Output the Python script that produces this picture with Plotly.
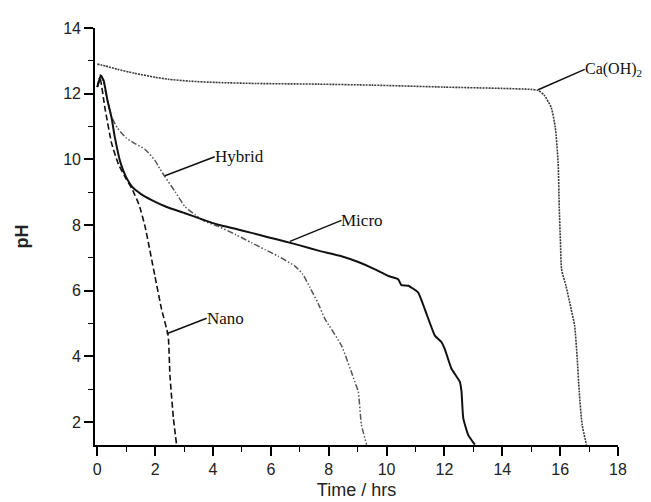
import plotly.graph_objects as go

# ---- data ----
caoh2_x = [0.0, 0.3, 0.7, 1.3, 2.0, 2.45, 3.2, 4.18, 5.5, 7.64, 9.5, 12.0, 14.0, 15.0, 15.24,
           15.45, 15.69, 15.83, 15.93, 15.97, 16.01, 16.05, 16.2, 16.38, 16.5, 16.59, 16.66, 16.76, 16.91]
caoh2_y = [12.9, 12.84, 12.74, 12.62, 12.5, 12.44, 12.38, 12.34, 12.31, 12.29, 12.26, 12.2, 12.16, 12.13, 12.1,
           11.95, 11.58, 10.98, 9.9, 8.5, 7.5, 6.65, 6.15, 5.44, 4.94, 3.93, 2.93, 1.92, 1.31]

micro_x = [0.0, 0.12, 0.22, 0.35, 0.49, 0.6, 0.8, 1.0, 1.2, 1.5, 1.88, 2.4, 3.03, 3.6, 4.18, 4.8, 5.33,
           5.9, 6.49, 7.0, 7.64, 8.44, 9.0, 9.6, 10.05, 10.4, 10.51, 10.75, 11.09, 11.32, 11.67, 11.9,
           12.01, 12.24, 12.53, 12.59, 12.65, 12.82, 13.05]
micro_y = [12.2, 12.55, 12.4, 11.8, 11.28, 10.7, 9.9, 9.45, 9.17, 8.95, 8.76, 8.55, 8.36, 8.18, 8.01, 7.88,
           7.76, 7.63, 7.5, 7.38, 7.22, 7.05, 6.88, 6.65, 6.45, 6.35, 6.17, 6.15, 5.95, 5.44, 4.63, 4.43,
           4.23, 3.63, 3.23, 2.93, 2.12, 1.61, 1.31]

hybrid_x = [0.0, 0.12, 0.2, 0.3, 0.49, 0.7, 1.0, 1.3, 1.65, 1.99, 2.17, 2.34, 2.7, 3.03, 3.4, 3.72, 4.18,
            4.8, 5.33, 5.8, 6.25, 6.83, 7.1, 7.35, 7.64, 7.87, 8.44, 8.9, 9.02, 9.13, 9.31]
hybrid_y = [12.2, 12.6, 12.4, 12.0, 11.3, 10.95, 10.65, 10.48, 10.3, 9.97, 9.7, 9.47, 9.0, 8.56, 8.3, 8.11,
            7.96, 7.7, 7.46, 7.25, 7.05, 6.75, 6.5, 6.1, 5.6, 5.14, 4.33, 3.23, 2.93, 1.92, 1.31]

nano_x = [0.0, 0.1, 0.26, 0.49, 0.73, 1.0, 1.2, 1.45, 1.65, 1.99, 2.22, 2.45, 2.51, 2.63, 2.74]
nano_y = [12.2, 12.45, 11.58, 10.5, 9.85, 9.4, 9.1, 8.6, 7.96, 6.45, 5.44, 4.63, 3.43, 2.12, 1.31]

# label positions: (text, curve point x, curve point y, label x, label y, font size)
labels = [
    ("Ca(OH)<sub>2</sub>", 15.24, 12.12, 16.85, 12.74, 16),
    ("Hybrid", 2.34, 9.50, 4.06, 10.08, 17),
    ("Micro", 6.66, 7.50, 8.44, 8.14, 17),
    ("Nano", 2.40, 4.69, 3.78, 5.16, 17),
]

fig = go.Figure()
fig.add_trace(go.Scatter(x=caoh2_x, y=caoh2_y, mode="lines", name="Ca(OH)2",
                         line=dict(color="#3a3a3a", width=1.6, dash="2px,1px", shape="spline", smoothing=0.6)))
fig.add_trace(go.Scatter(x=hybrid_x, y=hybrid_y, mode="lines", name="Hybrid",
                         line=dict(color="#555555", width=1.5, dash="6px,2px,1.5px,2px,1.5px,2px",
                                   shape="spline", smoothing=0.5)))
fig.add_trace(go.Scatter(x=micro_x, y=micro_y, mode="lines", name="Micro",
                         line=dict(color="#111111", width=2, shape="spline", smoothing=0.4)))
fig.add_trace(go.Scatter(x=nano_x, y=nano_y, mode="lines", name="Nano",
                         line=dict(color="#111111", width=1.6, dash="6px,3px", shape="spline", smoothing=0.4)))

for text, cx, cy, lx, ly, fs in labels:
    fig.add_shape(type="line", x0=cx, y0=cy, x1=lx, y1=ly, xref="x", yref="y",
                  line=dict(color="#111111", width=1.5))
    fig.add_annotation(x=lx, y=ly, text=text, showarrow=False, xanchor="left", yanchor="middle",
                       xshift=-2, font=dict(family="Liberation Serif", size=fs, color="#111111"))

axis_common = dict(showline=True, linecolor="black", linewidth=1.6, ticks="outside", ticklen=9,
                   tickwidth=1.5, tickcolor="black", showgrid=False, zeroline=False,
                   tickfont=dict(family="Liberation Sans", size=16, color="#222222"),
                   mirror=False)

fig.update_layout(
    width=651, height=502,
    margin=dict(l=87, r=41, t=17, b=65),
    paper_bgcolor="white", plot_bgcolor="white",
    showlegend=False,
    xaxis=dict(range=[-0.08, 18], dtick=2, tick0=0,
               minor=dict(dtick=1, ticks="outside", ticklen=5, tickwidth=1.3, tickcolor="black"),
               title=dict(text="Time / hrs", standoff=6,
                          font=dict(family="Liberation Sans", size=18, color="#222222")),
               **axis_common),
    yaxis=dict(range=[1.3, 14], dtick=2, tick0=0,
               minor=dict(dtick=1, ticks="outside", ticklen=5, tickwidth=1.3, tickcolor="black"),
               title=dict(text="<b>pH</b>", standoff=30,
                          font=dict(family="Liberation Sans", size=18, color="#222222")),
               **axis_common),
)

fig.write_html("out.html")
